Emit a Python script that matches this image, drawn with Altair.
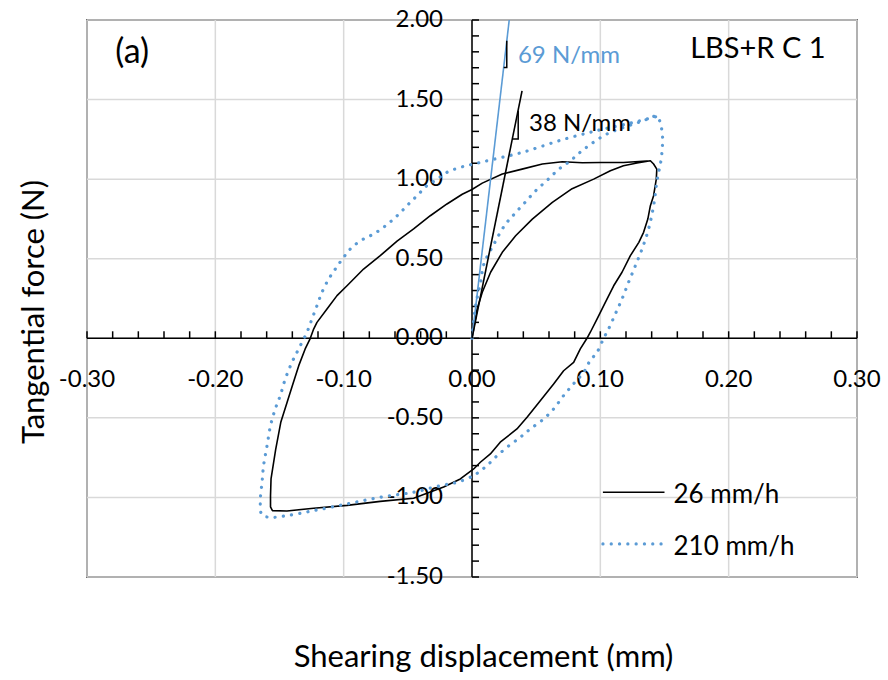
import altair as alt
import pandas as pd

# ---------------- data ----------------
# 26 mm/h loop (black solid), in drawing order
x26 = [0.000, 0.004, 0.008, 0.0145, 0.0236, 0.034, 0.047, 0.0626, 0.078, 0.0948, 0.1078, 0.118, 0.1286, 0.139,
       0.1415, 0.144, 0.1436, 0.1415, 0.139, 0.137, 0.1337, 0.130, 0.1234, 0.1169, 0.1104, 0.1039, 0.0974, 0.0922,
       0.0896, 0.0844, 0.0792, 0.0714, 0.0636, 0.0532, 0.0429, 0.035, 0.022, 0.0143, 0.0065, 0.0013, -0.0091,
       -0.0221, -0.0455, -0.0715, -0.0974, -0.1234, -0.1442, -0.1555,
       -0.157, -0.157, -0.1566, -0.153, -0.149, -0.144, -0.140, -0.135, -0.130, -0.126, -0.1234, -0.1208, -0.113,
       -0.1052, -0.0974, -0.0845, -0.0715, -0.0584, -0.0455, -0.0325, -0.0195, -0.0076, 0.000, 0.008, 0.0236,
       0.039, 0.0548, 0.0704, 0.086, 0.100, 0.118, 0.139]
y26 = [0.000, 0.184, 0.289, 0.415, 0.540, 0.644, 0.749, 0.854, 0.940, 1.000, 1.053, 1.084, 1.101, 1.116,
       1.095, 1.063, 1.000, 0.896, 0.833, 0.749, 0.666, 0.603, 0.519, 0.415, 0.330, 0.226, 0.121, 0.038,
       0.000, -0.067, -0.151, -0.204, -0.287, -0.392, -0.496, -0.570, -0.653, -0.727, -0.779, -0.821, -0.884,
       -0.935, -1.005, -1.025, -1.050, -1.068, -1.085, -1.083,
       -1.060, -0.990, -0.884, -0.700, -0.528, -0.400, -0.298, -0.172, -0.067, 0.000, 0.058, 0.100, 0.184,
       0.268, 0.330, 0.435, 0.519, 0.610, 0.687, 0.770, 0.844, 0.905, 0.935, 0.975, 1.032,
       1.063, 1.095, 1.109, 1.103, 1.105, 1.105, 1.116]

# 210 mm/h loop (blue dotted), in drawing order
x210 = [0.000, 0.0028, 0.0067, 0.0093, 0.0171, 0.0257, 0.0335, 0.0418, 0.0496, 0.0587, 0.0672, 0.0768, 0.0857,
        0.0953, 0.105, 0.120, 0.133, 0.144,
        0.1475, 0.1485, 0.148, 0.1467, 0.1454, 0.144, 0.1415, 0.1376, 0.1325, 0.1273, 0.122, 0.1169, 0.1117,
        0.1064, 0.1026, 0.0974, 0.092, 0.087, 0.079, 0.0714, 0.0636, 0.0558, 0.0454, 0.0376, 0.0273, 0.0182,
        0.0117, 0.0052, 0.000, -0.0117, -0.0247, -0.0455, -0.0715, -0.0974, -0.1234, -0.1442, -0.157,
        -0.1636, -0.165, -0.1636, -0.1624, -0.1597, -0.157, -0.1533, -0.1494, -0.1455, -0.1403, -0.1351, -0.1286,
        -0.1247, -0.1208, -0.1169, -0.1117, -0.1065, -0.100, -0.0935, -0.0845, -0.0767, -0.0689, -0.0611, -0.0545,
        -0.0481, -0.0416, -0.0351, -0.027, -0.0195, -0.0091, 0.0012, 0.0143, 0.040, 0.0714, 0.100, 0.125, 0.144]
y210 = [0.000, 0.205, 0.352, 0.467, 0.592, 0.712, 0.785, 0.858, 0.927, 0.994, 1.059, 1.116, 1.178,
        1.235, 1.283, 1.330, 1.365, 1.394,
        1.325, 1.262, 1.168, 1.090, 1.043, 0.980, 0.833, 0.687, 0.561, 0.456, 0.352, 0.247, 0.153,
        0.058, 0.000, -0.088, -0.141, -0.214, -0.287, -0.360, -0.444, -0.507, -0.570, -0.622, -0.685, -0.748,
        -0.800, -0.842, -0.868, -0.905, -0.926, -0.967, -0.999, -1.041, -1.083, -1.114, -1.125,
        -1.110, -1.030, -0.905, -0.800, -0.675, -0.549, -0.444, -0.360, -0.256, -0.151, -0.067, 0.038,
        0.121, 0.205, 0.289, 0.372, 0.435, 0.509, 0.572, 0.624, 0.655, 0.697, 0.749, 0.801,
        0.854, 0.906, 0.959, 1.000, 1.043, 1.074, 1.095, 1.120, 1.170, 1.250, 1.310, 1.355, 1.394]

# initial-stiffness lines (69 N/mm and 38 N/mm)
stiff_blue_x = [0.0, 0.029]
stiff_blue_y = [0.0, 2.0]
stiff_black_x = [0.0, 0.039]
stiff_black_y = [0.0, 1.555]
# small slope brackets next to the stiffness lines
bracket_blue_x = [0.0247, 0.0271, 0.0271]
bracket_blue_y = [1.702, 1.702, 1.869]
bracket_black_x = [0.0314, 0.0360, 0.0360]
bracket_black_y = [1.252, 1.252, 1.430]

series_names = ["26 mm/h", "210 mm/h"]
x_label_values = [-0.3, -0.2, -0.1, 0.0, 0.1, 0.2, 0.3]
x_tick_values = [round(-0.3 + 0.02 * k, 2) for k in range(31)]
y_label_values = [-1.5, -1.0, -0.5, 0.0, 0.5, 1.0, 1.5, 2.0]
y_tick_values = [round(-1.5 + 0.1 * k, 1) for k in range(36)]
x_title = "Shearing displacement (mm)"
y_title = "Tangential force (N)"

# ---------------- layout / style ----------------
W, H = 770, 557
XMIN, XMAX = -0.30, 0.30
YMIN, YMAX = -1.50, 2.00
FONT = "Lato"
BLUE = "#5B9BD5"
GRID = "#D9D9D9"
TICK = 7

xs = alt.Scale(domain=[XMIN, XMAX], nice=False, zero=False)
ys = alt.Scale(domain=[YMIN, YMAX], nice=False, zero=False)


def X(field):
    return alt.X(field, scale=xs, axis=None)


def Y(field):
    return alt.Y(field, scale=ys, axis=None)


df26 = pd.DataFrame({"x": x26, "y": y26, "i": list(range(len(x26)))})
df210 = pd.DataFrame({"x": x210, "y": y210, "i": list(range(len(x210)))})

# gridlines (vertical every 0.1 mm, horizontal every 0.5 N)
grid_v = alt.Chart(pd.DataFrame({"v": x_label_values})).mark_rule(color=GRID, strokeWidth=1.5).encode(x=X("v:Q"))
grid_h = alt.Chart(pd.DataFrame({"v": y_label_values})).mark_rule(color=GRID, strokeWidth=1.5).encode(y=Y("v:Q"))

black = alt.Chart(df26).mark_line(color="black", strokeWidth=1.6, strokeJoin="round").encode(
    x=X("x:Q"), y=Y("y:Q"), order="i:Q")

blue = alt.Chart(df210).mark_line(color=BLUE, strokeWidth=3.2, strokeDash=[0.1, 8.2],
                                  strokeCap="round", interpolate="catmull-rom").encode(
    x=X("x:Q"), y=Y("y:Q"), order="i:Q")

# axis lines through zero and their inside tick marks
zero_df = pd.DataFrame({"z": [0.0]})
x_axis_line = alt.Chart(zero_df).mark_rule(color="black", strokeWidth=1.5).encode(y=Y("z:Q"))
y_axis_line = alt.Chart(zero_df).mark_rule(color="black", strokeWidth=1.5).encode(x=X("z:Q"))
x_ticks = alt.Chart(pd.DataFrame({"v": x_tick_values, "z": [0.0] * len(x_tick_values)})).mark_rule(
    color="black", strokeWidth=1.5, y2Offset=-TICK).encode(x=X("v:Q"), y=Y("z:Q"), y2="z:Q")
y_ticks = alt.Chart(pd.DataFrame({"v": y_tick_values, "z": [0.0] * len(y_tick_values)})).mark_rule(
    color="black", strokeWidth=1.5, x2Offset=TICK).encode(y=Y("v:Q"), x=X("z:Q"), x2="z:Q")

# tick labels next to the zero-crossing axes
x_lab = alt.Chart(pd.DataFrame({
    "v": x_label_values, "z": [0.0] * len(x_label_values),
    "t": [f"{v:.2f}" for v in x_label_values]})).mark_text(
    font=FONT, fontSize=24, color="black", align="center", baseline="top", dy=30).encode(
    x=X("v:Q"), y=Y("z:Q"), text="t:N")
y_lab = alt.Chart(pd.DataFrame({
    "v": y_label_values, "z": [0.0] * len(y_label_values),
    "t": [f"{v:.2f}" for v in y_label_values]})).mark_text(
    font=FONT, fontSize=24, color="black", align="right", baseline="middle", dx=-29).encode(
    x=X("z:Q"), y=Y("v:Q"), text="t:N")

# axis titles (placed outside the plot area, in data units)
x_title_pos = (0.0090, -2.066)
y_title_pos = (-0.3335, 0.165)
x_tit = alt.Chart(pd.DataFrame({"t": [x_title], "x": [x_title_pos[0]], "y": [x_title_pos[1]]})).mark_text(
    font=FONT, fontSize=31, color="black", align="center", baseline="alphabetic").encode(
    x=X("x:Q"), y=Y("y:Q"), text="t:N")
y_tit = alt.Chart(pd.DataFrame({"t": [y_title], "x": [y_title_pos[0]], "y": [y_title_pos[1]]})).mark_text(
    font=FONT, fontSize=31, color="black", align="center", baseline="alphabetic", angle=270).encode(
    x=X("x:Q"), y=Y("y:Q"), text="t:N")


def seg(xv, yv, color, width):
    d = pd.DataFrame({"x": xv, "y": yv, "i": list(range(len(xv)))})
    return alt.Chart(d).mark_line(color=color, strokeWidth=width).encode(
        x=X("x:Q"), y=Y("y:Q"), order="i:Q")


stiff_blue = seg(stiff_blue_x, stiff_blue_y, BLUE, 1.6)
stiff_black = seg(stiff_black_x, stiff_black_y, "black", 1.6)
br_blue = seg(bracket_blue_x, bracket_blue_y, "black", 1.5)
br_black = seg(bracket_black_x, bracket_black_y, "black", 1.5)

# annotations
ann_text = ["(a)", "LBS+R C 1", "69 N/mm", "38 N/mm"]
ann_x = [-0.278, 0.170, 0.0358, 0.0444]
ann_y = [1.730, 1.761, 1.730, 1.300]
ann_color = ["black", "black", BLUE, "black"]
ann_size = [34, 29, 24, 24]
ann_df = pd.DataFrame({"t": ann_text, "x": ann_x, "y": ann_y, "c": ann_color, "s": ann_size})
annotations = alt.Chart(ann_df).mark_text(align="left", baseline="alphabetic", font=FONT).encode(
    x=X("x:Q"), y=Y("y:Q"),
    text="t:N",
    color=alt.Color("c:N", scale=None),
    size=alt.Size("s:Q", scale=None),
)

# legend (inside plot, lower right)
leg_x1, leg_x2, leg_tx = 0.102, 0.150, 0.157
leg_line_y = [-0.967, -1.292]
leg_text_y = [-1.033, -1.362]
leg_black = alt.Chart(pd.DataFrame({"x": [leg_x1], "x2": [leg_x2], "y": [leg_line_y[0]]})).mark_rule(
    color="black", strokeWidth=1.6).encode(x=X("x:Q"), x2="x2:Q", y=Y("y:Q"))
leg_blue = alt.Chart(pd.DataFrame({"x": [leg_x1], "x2": [leg_x2], "y": [leg_line_y[1]]})).mark_rule(
    color=BLUE, strokeWidth=3.2, strokeDash=[0.1, 8.2], strokeCap="round").encode(
    x=X("x:Q"), x2="x2:Q", y=Y("y:Q"))
leg_text = alt.Chart(pd.DataFrame({"t": series_names, "x": [leg_tx, leg_tx], "y": leg_text_y})).mark_text(
    align="left", baseline="alphabetic", font=FONT, fontSize=26, color="black").encode(
    x=X("x:Q"), y=Y("y:Q"), text="t:N")

chart = alt.layer(
    grid_v, grid_h, x_lab, y_lab, x_tit, y_tit,
    x_axis_line, y_axis_line, x_ticks, y_ticks,
    black, blue, stiff_blue, stiff_black, br_blue, br_black,
    annotations, leg_black, leg_blue, leg_text
).properties(
    width=W, height=H,
    autosize=alt.AutoSizeParams(type="none"),
    padding={"left": 87, "top": 20, "right": 31, "bottom": 103},
    background="white",
).configure_view(stroke="black", strokeWidth=1.5)

chart.save("out.html", embed_options={"renderer": "svg", "actions": False})
